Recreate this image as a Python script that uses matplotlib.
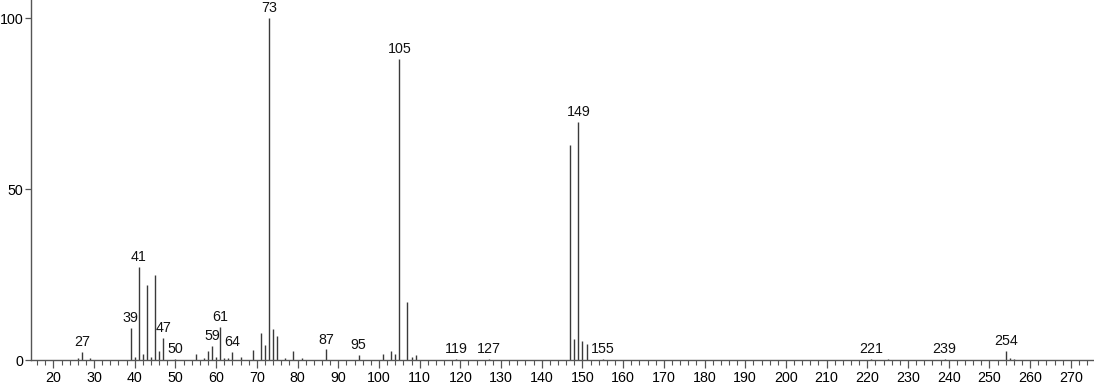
import matplotlib
matplotlib.use("Agg")
import matplotlib.pyplot as plt
from matplotlib.ticker import MultipleLocator

plt.rcParams['font.family'] = ['Liberation Sans', 'DejaVu Sans']

mz = [26, 27, 29, 39, 40, 41, 42, 43, 44, 45, 46, 47, 50, 55, 57, 58, 59, 60, 61,
      62, 63, 64, 66, 69, 71, 72, 73, 74, 75, 77, 79, 81, 87, 95, 101, 103, 104,
      105, 107, 108, 109, 119, 127, 147, 148, 149, 150, 151, 155, 221, 225, 239,
      254, 255, 256]
intensity = [0.6, 2.4, 0.5, 9.4, 0.8, 27.3, 1.8, 22.0, 1.0, 25.0, 2.6, 6.4, 0.4,
             1.7, 0.6, 2.6, 4.1, 1.0, 9.6, 0.5, 0.6, 2.3, 0.8, 2.9, 8.0, 4.4,
             100.0, 9.0, 7.0, 0.5, 2.6, 0.7, 3.1, 1.5, 1.8, 2.6, 1.9, 88.0, 17.0,
             0.8, 1.5, 0.3, 0.3, 63.0, 6.2, 69.6, 5.6, 4.6, 0.4, 0.4, 0.4, 0.3,
             2.6, 0.5, 0.4]
labeled = [27, 39, 41, 47, 50, 59, 61, 64, 73, 87, 95, 105, 119, 127, 149, 155,
           221, 239, 254]
x_ticks = list(range(20, 271, 10))
y_ticks = [0, 50, 100]

fig = plt.figure(figsize=(10.94, 3.84), dpi=100)
ax = fig.add_axes([31 / 1094, 24 / 384, 1 - 31 / 1094, 1 - 24 / 384])

ax.vlines(mz, 0, intensity, colors='#3a3a3a', linewidth=1.0)

lookup = dict(zip(mz, intensity))
for m in labeled:
    ax.annotate(str(m), (m, lookup[m]), xytext=(0, 2), textcoords='offset points',
                ha='center', va='bottom', fontsize=10.3, color='#111111')

ax.set_xlim(14.5, 275.7)
ax.set_ylim(0, 105.3)
ax.set_xticks(x_ticks)
ax.xaxis.set_minor_locator(MultipleLocator(2))
ax.set_yticks(y_ticks)

for s in ['top', 'right']:
    ax.spines[s].set_visible(False)
for s in ['left', 'bottom']:
    ax.spines[s].set_color('#555555')
    ax.spines[s].set_linewidth(1.0)

ax.tick_params(axis='x', which='major', direction='out', length=6, width=0.9,
               color='#555555', labelsize=10.3, pad=2)
ax.tick_params(axis='x', which='minor', direction='out', length=3.5, width=0.8,
               color='#555555')
ax.tick_params(axis='y', which='major', direction='out', length=4.5, width=0.9,
               color='#555555', labelsize=10.3, pad=1)

fig.savefig('out.png', dpi=100)
